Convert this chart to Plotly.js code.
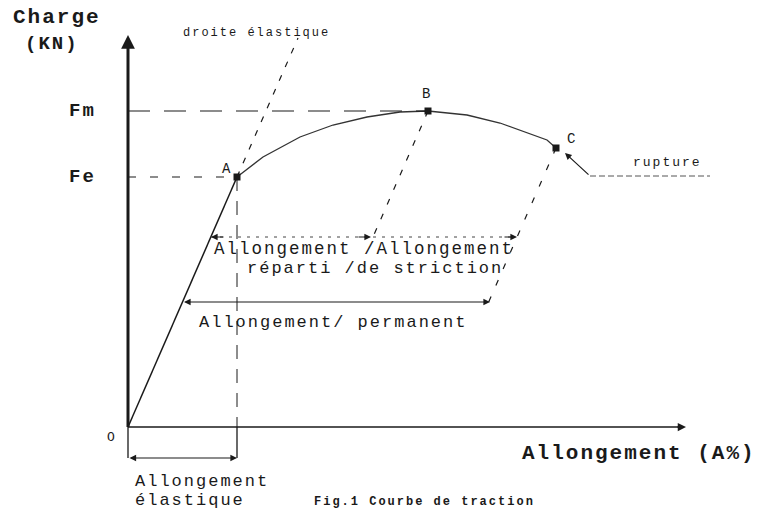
<!DOCTYPE html>
<html><head><meta charset="utf-8">
<script src="https://cdn.plot.ly/plotly-3.0.1.min.js"></script>
<style>body{margin:0;background:#fff} svg text{letter-spacing:2px}</style>
</head><body>
<div id="chart" style="width:769px;height:512px"></div>
<script>
// ---- Data (strain units, load units) ----
const pointLabels = ['A', 'B', 'C'];
const pointX = [109, 300, 428];
const pointY = [250, 316, 279];
const levelLabels = ['Fm', 'Fe'];
const levelY = [316, 250];
const elasticX = [0, 109];
const elasticY = [0, 250];
const droiteX = [109, 170];
const droiteY = [250, 389];
const curveX = [109, 135, 172, 205, 239, 272, 300, 339, 372, 419, 428];
const curveY = [250, 270, 290, 302, 310, 315, 316, 312, 304, 287, 279];
const unloadBX = [300, 245];
const unloadBY = [316, 190];
const unloadCX = [428, 358];
const unloadCY = [279, 119];
const reparti = [83, 245];      // y = 190
const striction = [245, 389];   // y = 190
const permanent = [54.5, 362];  // y = 125
const elastique = [0, 109];     // y = -31
const yAxisTop = 392, xAxisEnd = 558;

const ink = '#1a1a1a';
const mono = 'Liberation Mono, Courier New, monospace';
function line(x, y, w, dash, col) {
  return {x: x, y: y, mode: 'lines', type: 'scatter', hoverinfo: 'skip',
          line: {color: col || ink, width: w, dash: dash || 'solid'}};
}
const traces = [
  line([0, 0], [0, yAxisTop - 6], 3),
  line([0, xAxisEnd - 6], [0, 0], 1.5),
  line(elasticX, elasticY, 1.5),
  line(droiteX, droiteY, 1.2, '6px,9px'),
  line(curveX, curveY, 1.3, 'solid', '#333'),
  line([0, pointX[1]], [levelY[0], levelY[0]], 1.2, '22px,14px'),
  line([0, pointX[0]], [levelY[1], levelY[1]], 1.2, '8px,14px'),
  line([pointX[0], pointX[0]], [pointY[0], 0], 1, '14px,10px'),
  line([pointX[0], pointX[0]], [0, -31], 1.3),
  line([0, 0], [0, -31], 1.3),
  line(unloadBX, unloadBY, 1.2, '6px,10px'),
  line(unloadCX, unloadCY, 1.2, '6px,12px'),
  line([reparti[0], striction[1]], [190, 190], 1, '3px,6px', '#444'),
  line([462, 582], [251, 251], 1, '6px,3px', '#555'),
  {x: pointX, y: pointY, mode: 'markers', type: 'scatter', hoverinfo: 'skip',
   marker: {color: ink, size: 7, symbol: 'square'}}
];

function arrow(x, y, ax, ay, both, w) {
  return {x: x, y: y, ax: ax, ay: ay, xref: 'x', yref: 'y', axref: 'x', ayref: 'y',
          text: '', showarrow: true, arrowhead: 2, arrowsize: 1.1, arrowwidth: w || 1.2,
          arrowcolor: ink, arrowside: both ? 'end+start' : 'end'};
}
function label(t, x, y, size, bold, anchor) {
  return {x: x, y: y, xref: 'x', yref: 'y', text: t, showarrow: false,
          xanchor: anchor || 'center', yanchor: 'middle',
          font: {family: mono, size: size, color: ink, weight: bold ? 'bold' : 'normal'}};
}
const annotations = [
  arrow(0, yAxisTop, 0, yAxisTop - 10, false, 2.5),
  arrow(xAxisEnd, 0, xAxisEnd - 10, 0, false, 1.5),
  arrow(elastique[1], -31, elastique[0], -31, true),
  arrow(permanent[1], 125, permanent[0], 125, true),
  arrow(reparti[0], 190, reparti[0] + 14, 190),
  arrow(striction[0] - 2, 190, striction[0] - 16, 190),
  arrow(striction[1], 190, striction[1] - 14, 190),
  arrow(437, 274, 462, 251),
  label('Charge', -71, 410, 21, true),
  label('(KN)', -76, 383, 19, true),
  label('droite élastique', 128, 394, 12, false),
  label(levelLabels[0], -46, levelY[0], 19, true),
  label(levelLabels[1], -46, levelY[1], 19, true),
  label(pointLabels[0], 99, 258, 14, false),
  label(pointLabels[1], 299, 333, 14, false),
  label(pointLabels[2], 444, 288, 14, false),
  label('O', -16, -10, 13, false),
  label('rupture', 539, 265, 13, false),
  label('Allongement (A%)', 392, -26, 21, true, 'left'),
  label('Allongement /Allongement', 236, 178, 17.5, false),
  label('réparti /de striction', 117, 159, 17, false, 'left'),
  label('Allongement/ permanent', 205, 105, 17, false),
  label('Allongement', 5, -54, 17, false, 'left'),
  label('élastique', 5, -73, 17, false, 'left'),
  {x: 184, y: -84, xref: 'x', yref: 'y', text: 'Fig.1 Courbe de traction', showarrow: false,
   xanchor: 'left', yanchor: 'bottom', font: {family: mono, size: 12, color: ink, weight: 'bold'}}
];

const layout = {
  width: 769, height: 512,
  margin: {l: 0, r: 0, t: 0, b: 0},
  paper_bgcolor: '#fff', plot_bgcolor: '#fff',
  showlegend: false,
  xaxis: {range: [-128, 641], visible: false, fixedrange: true},
  yaxis: {range: [-85, 427], visible: false, fixedrange: true},
  annotations: annotations
};
Plotly.newPlot('chart', traces, layout, {staticPlot: true, displayModeBar: false});
</script>
</body></html>
